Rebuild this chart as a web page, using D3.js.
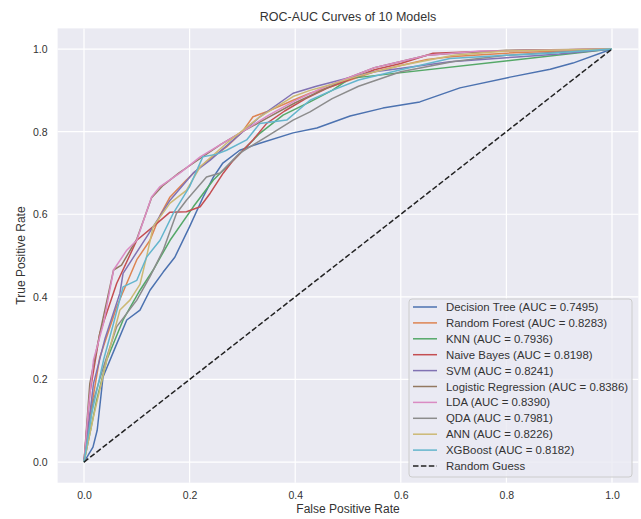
<!DOCTYPE html>
<html>
<head>
<meta charset="utf-8">
<script src="https://cdn.jsdelivr.net/npm/d3@7"></script>
<style>
  body { margin: 0; background: #fff; }
  text { font-family: "Liberation Sans", Arial, sans-serif; fill: #333; }
</style>
</head>
<body>
<svg id="chart"></svg>
<script>
/* data */
let models = ["Decision Tree", "Random Forest", "KNN", "Naive Bayes", "SVM",
  "Logistic Regression", "LDA", "QDA", "ANN", "XGBoost"];
let aucs = ["0.7495", "0.8283", "0.7936", "0.8198", "0.8241",
  "0.8386", "0.8390", "0.7981", "0.8226", "0.8182"];
let colors = ["#4C72B0", "#DD8452", "#55A868", "#C44E52", "#8172B3",
  "#937860", "#DA8BC3", "#8C8C8C", "#CCB974", "#64B5CD"];

let dtFpr = [0, .017, .025, .036, .06, .081, .106, .125, .15, .172, .2, .225, .245, .263, .295, .333, .396, .441, .504, .566, .636, .712, .807, .883, .926, 1];
let dtTpr = [0, .036, .077, .206, .28, .344, .368, .416, .46, .496, .57, .64, .69, .724, .755, .772, .797, .809, .838, .857, .872, .906, .932, .951, .966, 1];

let rfFpr = [0, .011, .03, .062, .081, .1, .125, .145, .163, .194, .22, .245, .27, .3, .32, .346, .396, .428, .47, .504, .55, .6, .65, .7, .8, .9, 1];
let rfTpr = [0, .11, .254, .376, .433, .49, .537, .6, .642, .683, .715, .74, .763, .8, .836, .848, .876, .893, .91, .925, .945, .96, .975, .982, .99, .995, 1];

let knnFpr = [0, .024, .043, .074, .106, .131, .163, .207, .245, .283, .333, .377, .428, .47, .504, 1];
let knnTpr = [0, .15, .247, .344, .416, .465, .537, .618, .683, .731, .796, .84, .872, .9, .929, 1];

let nbFpr = [0, .011, .03, .062, .1, .131, .163, .194, .22, .239, .264, .283, .32, .346, .38, .42, .46, .5, .55, .6, .661, .725, .8, 1];
let nbTpr = [0, .167, .312, .433, .537, .57, .605, .606, .618, .651, .7, .731, .78, .82, .85, .88, .905, .925, .95, .965, .99, .993, .996, 1];

let svmFpr = [0, .018, .04, .068, .074, .119, .163, .207, .239, .283, .333, .396, .44, .5, .55, .598, .693, .82, .9, 1];
let svmTpr = [0, .19, .3, .409, .457, .546, .634, .7, .731, .78, .836, .893, .91, .93, .945, .953, .969, .981, .988, 1];

let lrFpr = [0, .011, .03, .056, .071, .1, .128, .15, .18, .22, .26, .3, .35, .4, .45, .5, .55, .6, .65, .7, .8, 1];
let lrTpr = [0, .19, .312, .465, .477, .54, .64, .67, .7, .735, .77, .8, .835, .87, .9, .93, .955, .97, .985, .99, .997, 1];

let ldaFpr = [0, .008, .018, .037, .056, .081, .1, .128, .144, .182, .22, .26, .3, .35, .4, .45, .5, .55, .6, .65, .75, 1];
let ldaTpr = [0, .126, .247, .336, .465, .513, .537, .642, .667, .7, .739, .77, .8, .84, .875, .905, .93, .955, .97, .985, .995, 1];

let qdaFpr = [0, .018, .037, .062, .1, .125, .15, .175, .194, .232, .258, .295, .346, .396, .428, .47, .52, .6, .7, .8, .9, 1];
let qdaTpr = [0, .15, .231, .328, .392, .449, .513, .602, .634, .69, .7, .748, .788, .828, .848, .88, .91, .945, .97, .985, .993, 1];

let annFpr = [0, .018, .043, .068, .087, .106, .119, .131, .163, .194, .22, .27, .333, .396, .428, .47, .52, .6, .7, .8, 1];
let annTpr = [0, .11, .247, .368, .392, .43, .5, .57, .627, .658, .715, .772, .836, .885, .9, .915, .935, .96, .985, .995, 1];

let xgbFpr = [0, .015, .037, .056, .074, .1, .119, .144, .169, .2, .225, .25, .27, .308, .333, .384, .428, .47, .52, .6, .693, .8, .883, 1];
let xgbTpr = [0, .12, .247, .336, .424, .44, .497, .537, .602, .667, .739, .745, .755, .78, .82, .828, .876, .9, .925, .95, .977, .985, .99, 1];

let fprs = [dtFpr, rfFpr, knnFpr, nbFpr, svmFpr, lrFpr, ldaFpr, qdaFpr, annFpr, xgbFpr];
let tprs = [dtTpr, rfTpr, knnTpr, nbTpr, svmTpr, lrTpr, ldaTpr, qdaTpr, annTpr, xgbTpr];
let guess = [0, 1];
let ticks = [0, 0.2, 0.4, 0.6, 0.8, 1.0];

/* chart */
!(function() {
  let width = 641, height = 519;
  let margin = {top: 28.4, right: 2.6, bottom: 36.3, left: 57.6};
  let w = width - margin.left - margin.right;
  let h = height - margin.top - margin.bottom;

  let svg = d3.select("#chart")
    .attr("width", width)
    .attr("height", height);

  let g = svg.append("g")
    .attr("transform", "translate(" + margin.left + "," + margin.top + ")");

  let x = d3.scaleLinear().domain([-0.05, 1.05]).range([0, w]);
  let y = d3.scaleLinear().domain([-0.05, 1.05]).range([h, 0]);

  g.append("rect")
    .attr("width", w)
    .attr("height", h)
    .attr("fill", "#EAEAF2");

  g.append("clipPath").attr("id", "clip")
    .append("rect").attr("width", w).attr("height", h);

  // grid
  g.selectAll(".vgrid").data(ticks).enter().append("line")
    .attr("x1", d => x(d)).attr("x2", d => x(d))
    .attr("y1", 0).attr("y2", h)
    .attr("stroke", "#fff").attr("stroke-width", 1.2);
  g.selectAll(".hgrid").data(ticks).enter().append("line")
    .attr("y1", d => y(d)).attr("y2", d => y(d))
    .attr("x1", 0).attr("x2", w)
    .attr("stroke", "#fff").attr("stroke-width", 1.2);

  // axes without tick marks
  let xa = g.append("g")
    .attr("transform", "translate(0," + h + ")")
    .call(d3.axisBottom(x).tickValues(ticks).tickFormat(d3.format(".1f")).tickSize(0).tickPadding(9));
  let ya = g.append("g")
    .call(d3.axisLeft(y).tickValues(ticks).tickFormat(d3.format(".1f")).tickSize(0).tickPadding(10));
  [xa, ya].forEach(a => {
    a.select(".domain").remove();
    a.selectAll("text")
      .style("font-family", "'Liberation Sans', Arial, sans-serif")
      .style("font-size", "10.5px")
      .attr("fill", "#333");
  });

  let line = d3.line()
    .x(d => x(d[0]))
    .y(d => y(d[1]));

  let plot = g.append("g").attr("clip-path", "url(#clip)");

  models.forEach((m, i) => {
    let pts = fprs[i].map((f, j) => [f, tprs[i][j]]);
    plot.append("path")
      .datum(pts)
      .attr("d", line)
      .attr("fill", "none")
      .attr("stroke", colors[i])
      .attr("stroke-width", 1.5)
      .attr("stroke-linejoin", "round");
  });

  plot.append("path")
    .datum(guess.map(d => [d, d]))
    .attr("d", line)
    .attr("fill", "none")
    .attr("stroke", "#222")
    .attr("stroke-width", 1.5)
    .attr("stroke-dasharray", "5.5,2.4");

  // title and labels
  svg.append("text")
    .attr("x", margin.left + w / 2)
    .attr("y", 21)
    .attr("text-anchor", "middle")
    .style("font-size", "12.5px")
    .text("ROC-AUC Curves of 10 Models");

  svg.append("text")
    .attr("x", margin.left + w / 2)
    .attr("y", 513)
    .attr("text-anchor", "middle")
    .style("font-size", "12px")
    .text("False Positive Rate");

  svg.append("text")
    .attr("transform", "translate(25," + (margin.top + h / 2) + ") rotate(-90)")
    .attr("text-anchor", "middle")
    .style("font-size", "12px")
    .text("True Positive Rate");

  // legend
  let labels = models.map((m, i) => m + " (AUC = " + aucs[i] + ")").concat(["Random Guess"]);
  let lg = svg.append("g").attr("transform", "translate(409,299)");
  lg.append("rect")
    .attr("width", 223)
    .attr("height", 178)
    .attr("rx", 3)
    .attr("fill", "#EAEAF2")
    .attr("fill-opacity", 0.8)
    .attr("stroke", "#CCCCCC")
    .attr("stroke-width", 1);

  let row = lg.selectAll(".row").data(labels).enter().append("g")
    .attr("transform", (d, i) => "translate(0," + (8 + i * 15.9) + ")");
  row.append("line")
    .attr("x1", 4).attr("x2", 28)
    .attr("stroke", (d, i) => i < colors.length ? colors[i] : "#222")
    .attr("stroke-width", 1.5)
    .attr("stroke-dasharray", (d, i) => i < colors.length ? null : "5.5,2.4");
  row.append("text")
    .attr("x", 37)
    .attr("dy", "0.35em")
    .style("font-size", "11.4px")
    .text(d => d);
})();
</script>
</body>
</html>
